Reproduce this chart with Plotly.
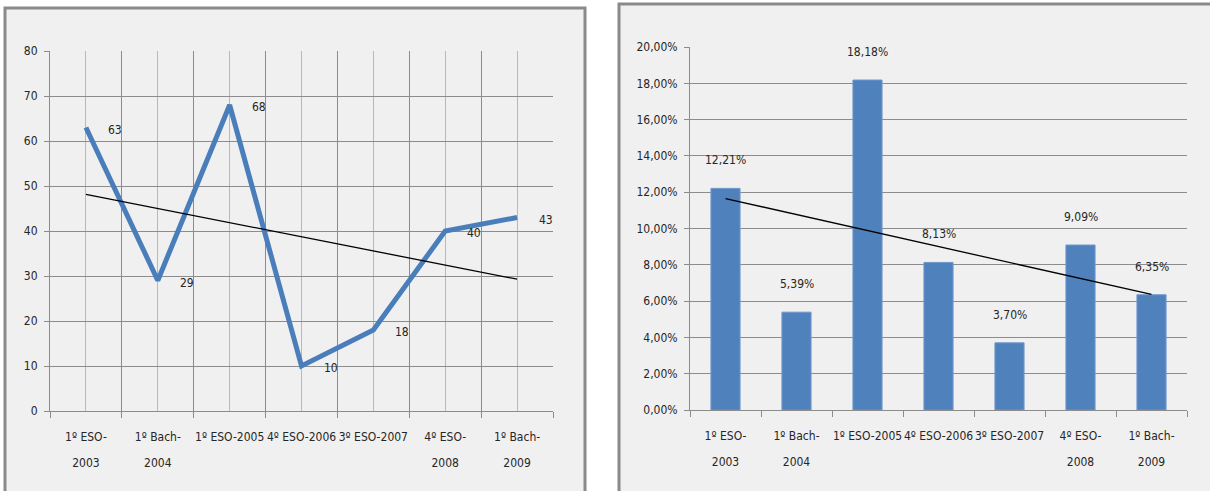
import numpy as np
import plotly.graph_objects as go

# Courses (categories) shared by both panels; "\n" marks where a label wraps
categories = ["1º ESO-\n2003", "1º Bach-\n2004", "1º ESO-2005", "4º ESO-2006",
              "3º ESO-2007", "4º ESO-\n2008", "1º Bach-\n2009"]
# Left panel: counts per course
counts = [63, 29, 68, 10, 18, 40, 43]
# Right panel: percentages per course
percents = [12.21, 5.39, 18.18, 8.13, 3.70, 9.09, 6.35]

FONT = "Liberation Sans Narrow, DejaVu Sans Condensed, Arial Narrow, sans-serif"
TXT = "#262626"
GRID = "#8c8c8c"
GRID_LIGHT = "#b9b9b9"
BLUE_LINE = "#4a7ebb"
BLUE_BAR = "#4f81bd"

W, H = 1210, 491


def px_x(v):
    return v / W


def px_y(v):
    return (H - v) / H


idx = list(range(len(categories)))
bounds = [i - 0.5 for i in range(len(categories) + 1)]
line1 = [c.split("\n")[0] for c in categories]
line2 = [c.split("\n")[1] if "\n" in c else "" for c in categories]
frac = [p / 100 for p in percents]

# linear trends
c_fit = np.polyfit(idx, counts, 1)
c_trend = np.polyval(c_fit, idx)
p_fit = np.polyfit(idx, frac, 1)
p_trend = np.polyval(p_fit, idx)

fig = go.Figure()

# ---- left panel: line chart
fig.add_trace(go.Scatter(x=idx, y=counts, mode="lines",
                         line=dict(color=BLUE_LINE, width=5),
                         xaxis="x", yaxis="y", showlegend=False, hoverinfo="skip"))
fig.add_trace(go.Scatter(x=[idx[0], idx[-1]], y=[c_trend[0], c_trend[-1]], mode="lines",
                         line=dict(color="#000000", width=1.3),
                         xaxis="x", yaxis="y", showlegend=False, hoverinfo="skip"))

# ---- right panel: bar chart
fig.add_trace(go.Bar(x=idx, y=frac, marker=dict(color=BLUE_BAR, line=dict(color="#6f97cc", width=1)),
                     width=0.41, xaxis="x2", yaxis="y2", showlegend=False, hoverinfo="skip"))
fig.add_trace(go.Scatter(x=[idx[0], idx[-1]], y=[p_trend[0], p_trend[-1]], mode="lines",
                         line=dict(color="#000000", width=1.3),
                         xaxis="x2", yaxis="y2", showlegend=False, hoverinfo="skip"))

# empty traces so the second-line label axes get drawn
fig.add_trace(go.Scatter(x=[], y=[], xaxis="x3", yaxis="y", showlegend=False, hoverinfo="skip"))
fig.add_trace(go.Scatter(x=[], y=[], xaxis="x4", yaxis="y2", showlegend=False, hoverinfo="skip"))

annotations = []
for i, v in zip(idx, counts):
    annotations.append(dict(x=i, y=v, xref="x", yref="y", text=str(v), showarrow=False,
                            xshift=29, yshift=-2, font=dict(family=FONT, size=12, color=TXT)))
for i, v in zip(idx, percents):
    annotations.append(dict(x=i, y=v / 100, xref="x2", yref="y2",
                            text=f"{v:.2f}%".replace(".", ","), showarrow=False,
                            yshift=28, font=dict(family=FONT, size=12, color=TXT)))

tickfont = dict(family=FONT, size=12, color=TXT)

LX = [px_x(50), px_x(553)]
RX = [px_x(690), px_x(1187)]


def cat_axis(domain, anchor, grid):
    return dict(domain=domain, anchor=anchor, range=[-0.5, 6.5], automargin=False,
                tickmode="array", tickvals=idx, ticktext=line1, tickangle=0,
                ticks="", showgrid=grid, gridcolor=GRID_LIGHT, gridwidth=1,
                minor=dict(tickmode="array", tickvals=bounds,
                           ticks="outside", ticklen=6, tickcolor=GRID,
                           showgrid=grid, gridcolor=GRID, gridwidth=1),
                showline=True, linecolor=GRID, linewidth=1, zeroline=False,
                tickfont=tickfont, ticklabelstandoff=15, fixedrange=True)


def second_line_axis(base, anchor):
    return dict(overlaying=base, anchor=anchor, range=[-0.5, 6.5], automargin=False,
                tickmode="array", tickvals=idx, ticktext=line2, tickangle=0,
                ticks="", showgrid=False, showline=False, zeroline=False,
                tickfont=tickfont, ticklabelstandoff=43, fixedrange=True)


fig.update_layout(
    width=W, height=H,
    margin=dict(l=0, r=0, t=0, b=0, autoexpand=False),
    paper_bgcolor="white",
    plot_bgcolor="rgba(0,0,0,0)",
    separators=",.",
    xaxis=cat_axis(LX, "y", True),
    xaxis3=second_line_axis("x", "y"),
    yaxis=dict(domain=[px_y(411), px_y(51)], anchor="x", range=[0, 80], dtick=10,
               automargin=False, ticks="outside", ticklen=5, tickcolor=GRID,
               showgrid=True, gridcolor=GRID, gridwidth=1,
               showline=True, linecolor=GRID, linewidth=1, zeroline=False,
               tickfont=tickfont, ticklabelstandoff=4, fixedrange=True),
    xaxis2=cat_axis(RX, "y2", False),
    xaxis4=second_line_axis("x2", "y2"),
    yaxis2=dict(domain=[px_y(410), px_y(47)], anchor="x2", range=[0, 0.2], dtick=0.02,
                tickformat=".2%", automargin=False, ticks="outside", ticklen=5, tickcolor=GRID,
                showgrid=True, gridcolor=GRID, gridwidth=1,
                showline=True, linecolor=GRID, linewidth=1, zeroline=False,
                tickfont=tickfont, ticklabelstandoff=4, fixedrange=True),
    annotations=annotations,
    shapes=[
        dict(type="rect", xref="paper", yref="paper", layer="below",
             x0=px_x(5), x1=px_x(585), y0=px_y(500), y1=px_y(8),
             line=dict(color="#8a8a8a", width=3), fillcolor="#f0f0f0"),
        dict(type="rect", xref="paper", yref="paper", layer="below",
             x0=px_x(619), x1=px_x(1215), y0=px_y(500), y1=px_y(4),
             line=dict(color="#8a8a8a", width=3), fillcolor="#f0f0f0"),
    ],
)

fig.write_html("out.html", config=dict(displayModeBar=False))
